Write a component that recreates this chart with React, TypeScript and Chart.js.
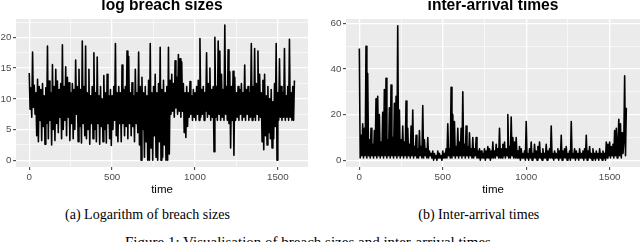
import React, { useEffect, useRef } from 'react';
import { Chart, registerables } from 'chart.js';

Chart.register(...registerables);

// time index step between stored observations
const TIME_STEP = 5;

// log breach sizes, t = 0, 5, 10, ... 1600
const LOG_BREACH_SIZES = [
  14.2, 8.3, 11.8, 7.0, 17.6, 8.6, 12.2, 7.5, 11.0, 4.0,
  13.2, 3.0, 12.0, 6.5, 11.5, 3.2, 12.5, 5.5, 10.5, 2.6,
  11.8, 6.0, 18.6, 3.5, 12.9, 6.5, 11.0, 2.5, 15.6, 5.0,
  12.0, 3.2, 14.8, 6.0, 12.9, 4.5, 11.5, 7.0, 12.5, 3.5,
  18.8, 5.0, 12.0, 6.5, 15.2, 4.0, 13.5, 7.0, 12.6, 3.2,
  11.0, 6.0, 12.5, 3.5, 11.5, 5.0, 16.3, 7.5, 12.0, 3.0,
  14.8, 5.5, 11.5, 2.8, 19.4, 6.0, 12.0, 4.0, 18.6, 3.5,
  11.0, 5.0, 14.8, 2.6, 10.5, 6.0, 12.0, 3.5, 17.5, 5.0,
  11.0, 3.0, 16.8, 6.0, 10.5, 2.6, 12.0, 5.5, 10.0, 3.0,
  13.8, 5.0, 11.0, 2.8, 14.0, 6.0, 10.5, 3.5, 11.5, 2.4,
  10.5, 5.0, 12.0, 6.5, 19.0, 4.0, 11.0, 3.0, 12.0, 6.0,
  11.0, 3.0, 15.5, 6.0, 11.5, 4.0, 12.0, 5.5, 17.8, 3.5,
  16.9, 6.0, 11.0, 4.0, 12.6, 5.5, 10.5, 3.0, 14.8, 6.0,
  11.0, 4.5, 17.6, 2.5, 12.0, 0.0, 13.5, 5.0, 11.0, 0.5,
  12.0, 3.0, 10.5, 0.0, 13.0, 0.0, 19.0, 2.0, 11.0, 0.0,
  12.0, 4.0, 14.0, 0.5, 11.0, 0.0, 12.5, 3.0, 18.4, 0.0,
  11.5, 0.5, 13.0, 2.5, 11.0, 0.0, 12.0, 0.0, 18.4, 1.0,
  13.0, 7.5, 14.0, 8.0, 12.5, 7.0, 16.2, 8.5, 13.5, 7.5,
  17.2, 8.0, 16.5, 7.0, 16.0, 8.0, 12.5, 4.5, 11.0, 3.7,
  12.0, 5.5, 11.0, 7.0, 12.8, 7.5, 10.5, 6.5, 11.5, 7.0,
  11.0, 6.5, 12.0, 7.5, 13.0, 6.5, 19.8, 7.0, 11.5, 7.5,
  12.0, 6.5, 11.0, 8.0, 17.5, 7.0, 12.5, 7.5, 15.0, 6.5,
  11.5, 7.0, 12.0, 1.4, 20.0, 7.0, 12.0, 6.5, 19.4, 7.5,
  17.8, 6.5, 14.0, 7.0, 11.5, 6.5, 22.0, 7.5, 12.0, 6.5,
  18.0, 6.0, 14.4, 2.0, 12.0, 6.5, 14.5, 0.8, 13.5, 6.5,
  11.0, 7.0, 12.0, 6.5, 11.5, 7.5, 12.5, 6.5, 11.0, 7.0,
  15.5, 6.5, 11.5, 7.5, 12.0, 6.5, 11.0, 7.0, 19.0, 6.5,
  12.0, 7.0, 18.2, 6.5, 12.5, 7.5, 17.8, 6.5, 14.0, 7.0,
  11.0, 3.0, 13.0, 1.7, 14.0, 4.0, 10.5, 2.5, 12.0, 4.5,
  10.0, 3.5, 11.5, 2.0, 9.5, 3.5, 12.5, 5.5, 19.0, 0.0,
  11.0, 6.5, 16.5, 7.0, 12.0, 6.5, 11.0, 7.0, 18.2, 6.5,
  10.5, 7.0, 12.0, 6.5, 19.7, 7.0, 11.0, 6.5, 12.0, 6.5,
  13.0,
];

// inter-arrival times, t = 0, 5, 10, ... 1600
const INTER_ARRIVAL_TIMES = [
  49, 1, 11, 2, 16, 1, 14, 2, 50, 1,
  38, 2, 9, 1, 14, 2, 7, 1, 13, 2,
  27, 1, 28, 2, 20, 1, 8, 2, 21, 1,
  31, 2, 36, 1, 9, 2, 23, 1, 33, 2,
  10, 1, 25, 2, 28, 1, 59, 2, 22, 1,
  9, 2, 15, 1, 8, 2, 26, 1, 14, 2,
  7, 1, 15, 2, 22, 1, 6, 2, 11, 1,
  5, 1, 13, 2, 6, 1, 24, 1, 9, 2,
  5, 1, 10, 1, 4, 2, 3, 1, 4, 0,
  3, 1, 2, 0, 4, 1, 3, 1, 2, 0,
  4, 1, 3, 1, 5, 1, 16, 2, 5, 1,
  32, 1, 20, 2, 17, 1, 6, 2, 14, 1,
  8, 2, 14, 1, 30, 2, 7, 1, 15, 2,
  6, 1, 12, 2, 5, 1, 10, 1, 5, 2,
  10, 1, 4, 1, 5, 0, 4, 1, 3, 1,
  5, 0, 4, 1, 6, 1, 5, 0, 4, 1,
  8, 1, 4, 1, 7, 2, 5, 1, 14, 1,
  5, 1, 7, 2, 8, 1, 5, 2, 20, 1,
  6, 1, 19, 2, 10, 1, 8, 1, 10, 1,
  4, 1, 6, 0, 5, 1, 3, 1, 4, 0,
  17, 1, 3, 0, 5, 1, 8, 0, 3, 1,
  7, 1, 4, 0, 6, 1, 8, 1, 3, 0,
  5, 1, 3, 1, 7, 0, 4, 1, 5, 1,
  15, 1, 3, 0, 4, 1, 3, 1, 5, 0,
  4, 1, 11, 0, 4, 1, 5, 1, 6, 0,
  3, 1, 4, 0, 17, 1, 3, 1, 5, 0,
  4, 1, 3, 0, 5, 1, 3, 1, 4, 0,
  5, 1, 11, 0, 4, 1, 6, 1, 3, 0,
  5, 1, 3, 0, 4, 1, 3, 0, 5, 1,
  3, 0, 4, 1, 3, 0, 8, 1, 7, 2,
  8, 1, 6, 2, 7, 1, 13, 2, 14, 1,
  7, 18, 2, 16, 1, 12, 3, 8, 37, 2,
  23,
];

const X_MAJOR = [0, 500, 1000, 1500];
const X_MINOR = [250, 750, 1250];
const LEFT_Y_MAJOR = [0, 5, 10, 15, 20];
const LEFT_Y_MINOR = [2.5, 7.5, 12.5, 17.5, 22.5];
const RIGHT_Y_MAJOR = [0, 20, 40, 60];
const RIGHT_Y_MINOR = [10, 30, 50];

const SANS = "'Liberation Sans', Arial, sans-serif";
const SERIF = "'Liberation Serif', 'Times New Roman', serif";

const panelBg = {
  id: 'panelBg',
  beforeDraw(chart: any) {
    const { ctx, chartArea } = chart;
    if (!chartArea) return;
    ctx.save();
    ctx.fillStyle = '#EBEBEB';
    ctx.fillRect(chartArea.left, chartArea.top, chartArea.right - chartArea.left, chartArea.bottom - chartArea.top);
    ctx.restore();
  },
};

type PanelProps = {
  values: number[];
  yMin: number;
  yMax: number;
  yMajor: number[];
  yMinor: number[];
  yAxisWidth: number;
  padRight: number;
};

function tickList(major: number[], minor: number[]) {
  return [...major, ...minor].sort((a, b) => a - b).map((v) => ({ value: v }));
}

function Panel({ values, yMin, yMax, yMajor, yMinor, yAxisWidth, padRight }: PanelProps) {
  const ref = useRef<HTMLCanvasElement | null>(null);
  useEffect(() => {
    if (!ref.current) return;
    const isMajorX = (v: number) => X_MAJOR.includes(v);
    const isMajorY = (v: number) => yMajor.includes(v);
    const chart = new Chart(ref.current, {
      type: 'line',
      data: {
        datasets: [
          {
            data: values.map((v, i) => ({ x: i * TIME_STEP, y: v })),
            borderColor: '#000000',
            borderWidth: 1.6,
            pointRadius: 0,
            fill: false,
            tension: 0,
            borderJoinStyle: 'round',
          },
        ],
      },
      options: {
        animation: false,
        responsive: false,
        events: [],
        layout: { padding: { top: 19, right: padRight, left: 0, bottom: 0 } },
        plugins: { legend: { display: false }, tooltip: { enabled: false }, title: { display: false } },
        scales: {
          x: {
            type: 'linear',
            min: -80,
            max: 1682,
            afterBuildTicks: (s: any) => {
              s.ticks = tickList(X_MAJOR, X_MINOR);
            },
            afterFit: (s: any) => {
              s.height = 33;
            },
            border: { display: false },
            grid: {
              color: '#FFFFFF',
              lineWidth: (c: any) => (isMajorX(c.tick?.value) ? 1.3 : 0.6),
              tickLength: 3,
              tickWidth: 1,
              tickColor: (c: any) => (isMajorX(c.tick?.value) ? '#333333' : 'rgba(0,0,0,0)'),
            },
            ticks: {
              autoSkip: false,
              maxRotation: 0,
              padding: 1.5,
              color: '#4D4D4D',
              font: { family: SANS, size: 9.8 },
              callback: (v: any) => (isMajorX(Number(v)) ? String(v) : ''),
            },
          },
          y: {
            type: 'linear',
            min: yMin,
            max: yMax,
            afterBuildTicks: (s: any) => {
              s.ticks = tickList(yMajor, yMinor);
            },
            afterFit: (s: any) => {
              s.width = yAxisWidth;
            },
            border: { display: false },
            grid: {
              color: '#FFFFFF',
              lineWidth: (c: any) => (isMajorY(c.tick?.value) ? 1.3 : 0.6),
              tickLength: 3,
              tickWidth: 1,
              tickColor: (c: any) => (isMajorY(c.tick?.value) ? '#333333' : 'rgba(0,0,0,0)'),
            },
            ticks: {
              autoSkip: false,
              padding: 1.5,
              color: '#4D4D4D',
              font: { family: SANS, size: 9.8 },
              callback: (v: any) => (isMajorY(Number(v)) ? String(v) : ''),
            },
          },
        },
      } as any,
      plugins: [panelBg],
    });
    return () => chart.destroy();
  }, []);
  return <canvas ref={ref} width={320} height={200} style={{ width: 320, height: 200, display: 'block' }} />;
}

const textBase: React.CSSProperties = { position: 'absolute', whiteSpace: 'nowrap', textAlign: 'center', color: '#000' };

function Label({ text, center, top, font, size, lh, bold }: { text: string; center: number; top: number; font: string; size: number; lh: number; bold?: boolean }) {
  return (
    <div
      style={{
        ...textBase,
        left: center - 200,
        width: 400,
        top,
        fontFamily: font,
        fontSize: size,
        lineHeight: `${lh}px`,
        fontWeight: bold ? 'bold' : 'normal',
      }}
    >
      {text}
    </div>
  );
}

export default function App() {
  return (
    <div style={{ position: 'fixed', left: 0, top: 0, width: 640, height: 242, overflow: 'hidden', background: '#FFFFFF' }}>
      <div style={{ position: 'absolute', left: 0, top: 0 }}>
        <Panel values={LOG_BREACH_SIZES} yMin={-1.1} yMax={23.0} yMajor={LEFT_Y_MAJOR} yMinor={LEFT_Y_MINOR} yAxisWidth={16} padRight={12} />
      </div>
      <div style={{ position: 'absolute', left: 320, top: 0 }}>
        <Panel values={INTER_ARRIVAL_TIMES} yMin={-2.95} yMax={61.95} yMajor={RIGHT_Y_MAJOR} yMinor={RIGHT_Y_MINOR} yAxisWidth={26} padRight={0} />
      </div>
      <Label text="log breach sizes" center={162} top={-2.7} font={SANS} size={15.6} lh={16} bold />
      <Label text="inter-arrival times" center={493} top={-2.7} font={SANS} size={15.6} lh={16} bold />
      <Label text="time" center={162} top={182.5} font={SANS} size={11.5} lh={13} />
      <Label text="time" center={493} top={182.5} font={SANS} size={11.5} lh={13} />
      <Label text="(a) Logarithm of breach sizes" center={147.5} top={207.3} font={SERIF} size={14} lh={16} />
      <Label text="(b) Inter-arrival times" center={478.8} top={207.3} font={SERIF} size={14} lh={16} />
      <Label text="Figure 1: Visualisation of breach sizes and inter-arrival times" center={308} top={233.6} font={SERIF} size={15} lh={17} />
    </div>
  );
}
